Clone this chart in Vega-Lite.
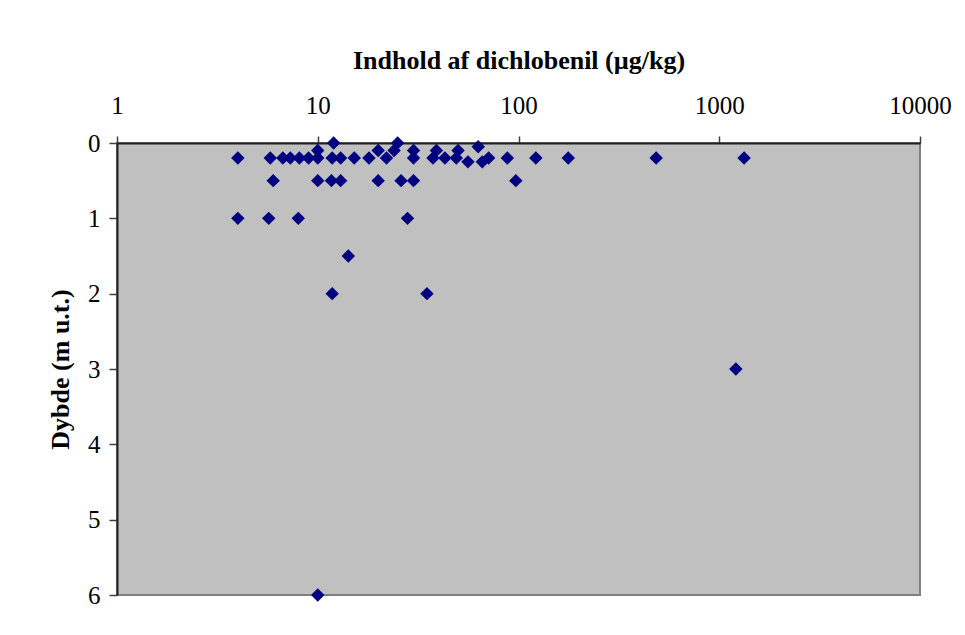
{
  "$schema": "https://vega.github.io/schema/vega-lite/v6.json",
  "width": 803,
  "height": 452,
  "autosize": {"type": "none"},
  "padding": {"left": 117, "top": 143, "right": 45, "bottom": 40},
  "background": "white",
  "data": {
    "values": [
      {"indhold": 4.0, "dybde": 0.2},
      {"indhold": 5.8, "dybde": 0.2},
      {"indhold": 6.7, "dybde": 0.2},
      {"indhold": 7.3, "dybde": 0.2},
      {"indhold": 8.1, "dybde": 0.2},
      {"indhold": 9.0, "dybde": 0.2},
      {"indhold": 10, "dybde": 0.2},
      {"indhold": 11.8, "dybde": 0.2},
      {"indhold": 13, "dybde": 0.2},
      {"indhold": 15.2, "dybde": 0.2},
      {"indhold": 18, "dybde": 0.2},
      {"indhold": 22, "dybde": 0.2},
      {"indhold": 30, "dybde": 0.2},
      {"indhold": 37.5, "dybde": 0.2},
      {"indhold": 43, "dybde": 0.2},
      {"indhold": 49, "dybde": 0.2},
      {"indhold": 71, "dybde": 0.2},
      {"indhold": 88, "dybde": 0.2},
      {"indhold": 122, "dybde": 0.2},
      {"indhold": 177, "dybde": 0.2},
      {"indhold": 485, "dybde": 0.2},
      {"indhold": 1330, "dybde": 0.2},
      {"indhold": 12, "dybde": 0},
      {"indhold": 25, "dybde": 0},
      {"indhold": 10, "dybde": 0.1},
      {"indhold": 20, "dybde": 0.1},
      {"indhold": 24, "dybde": 0.1},
      {"indhold": 30, "dybde": 0.1},
      {"indhold": 39, "dybde": 0.1},
      {"indhold": 50, "dybde": 0.1},
      {"indhold": 63, "dybde": 0.05},
      {"indhold": 56, "dybde": 0.25},
      {"indhold": 66, "dybde": 0.25},
      {"indhold": 6, "dybde": 0.5},
      {"indhold": 10, "dybde": 0.5},
      {"indhold": 11.7, "dybde": 0.5},
      {"indhold": 13, "dybde": 0.5},
      {"indhold": 20, "dybde": 0.5},
      {"indhold": 26, "dybde": 0.5},
      {"indhold": 30, "dybde": 0.5},
      {"indhold": 97, "dybde": 0.5},
      {"indhold": 4, "dybde": 1},
      {"indhold": 5.7, "dybde": 1},
      {"indhold": 8, "dybde": 1},
      {"indhold": 28, "dybde": 1},
      {"indhold": 14.2, "dybde": 1.5},
      {"indhold": 11.8, "dybde": 2},
      {"indhold": 35, "dybde": 2},
      {"indhold": 1210, "dybde": 3},
      {"indhold": 10, "dybde": 6}
    ]
  },
  "mark": {"type": "point", "shape": "diamond", "filled": true, "color": "#000080", "opacity": 1, "size": 180, "clip": false},
  "encoding": {
    "x": {
      "field": "indhold",
      "type": "quantitative",
      "scale": {"type": "log", "domain": [1, 10000], "nice": false},
      "axis": {
        "orient": "top",
        "title": "Indhold af dichlobenil (µg/kg)",
        "values": [1, 10, 100, 1000, 10000],
        "format": "d",
        "grid": false,
        "tickSize": 7,
        "labelPadding": 18,
        "titlePadding": 20,
        "labelFlush": false,
        "labelOverlap": false
      }
    },
    "y": {
      "field": "dybde",
      "type": "quantitative",
      "scale": {"domain": [0, 6], "reverse": true, "nice": false, "zero": false},
      "axis": {
        "orient": "left",
        "title": "Dybde (m u.t.)",
        "values": [0, 1, 2, 3, 4, 5, 6],
        "format": "d",
        "grid": false,
        "tickSize": 8,
        "labelPadding": 9,
        "titlePadding": 14,
        "labelFlush": false,
        "labelOverlap": false
      }
    }
  },
  "config": {
    "view": {"fill": "#C0C0C0", "stroke": "#808080", "strokeWidth": 2},
    "axis": {
      "labelFont": "Liberation Serif",
      "labelFontSize": 25,
      "labelColor": "black",
      "titleFont": "Liberation Serif",
      "titleFontSize": 26,
      "titleFontWeight": "bold",
      "titleColor": "black",
      "domainColor": "#202020",
      "domainWidth": 2,
      "tickColor": "#404040",
      "tickWidth": 1.5
    }
  }
}
